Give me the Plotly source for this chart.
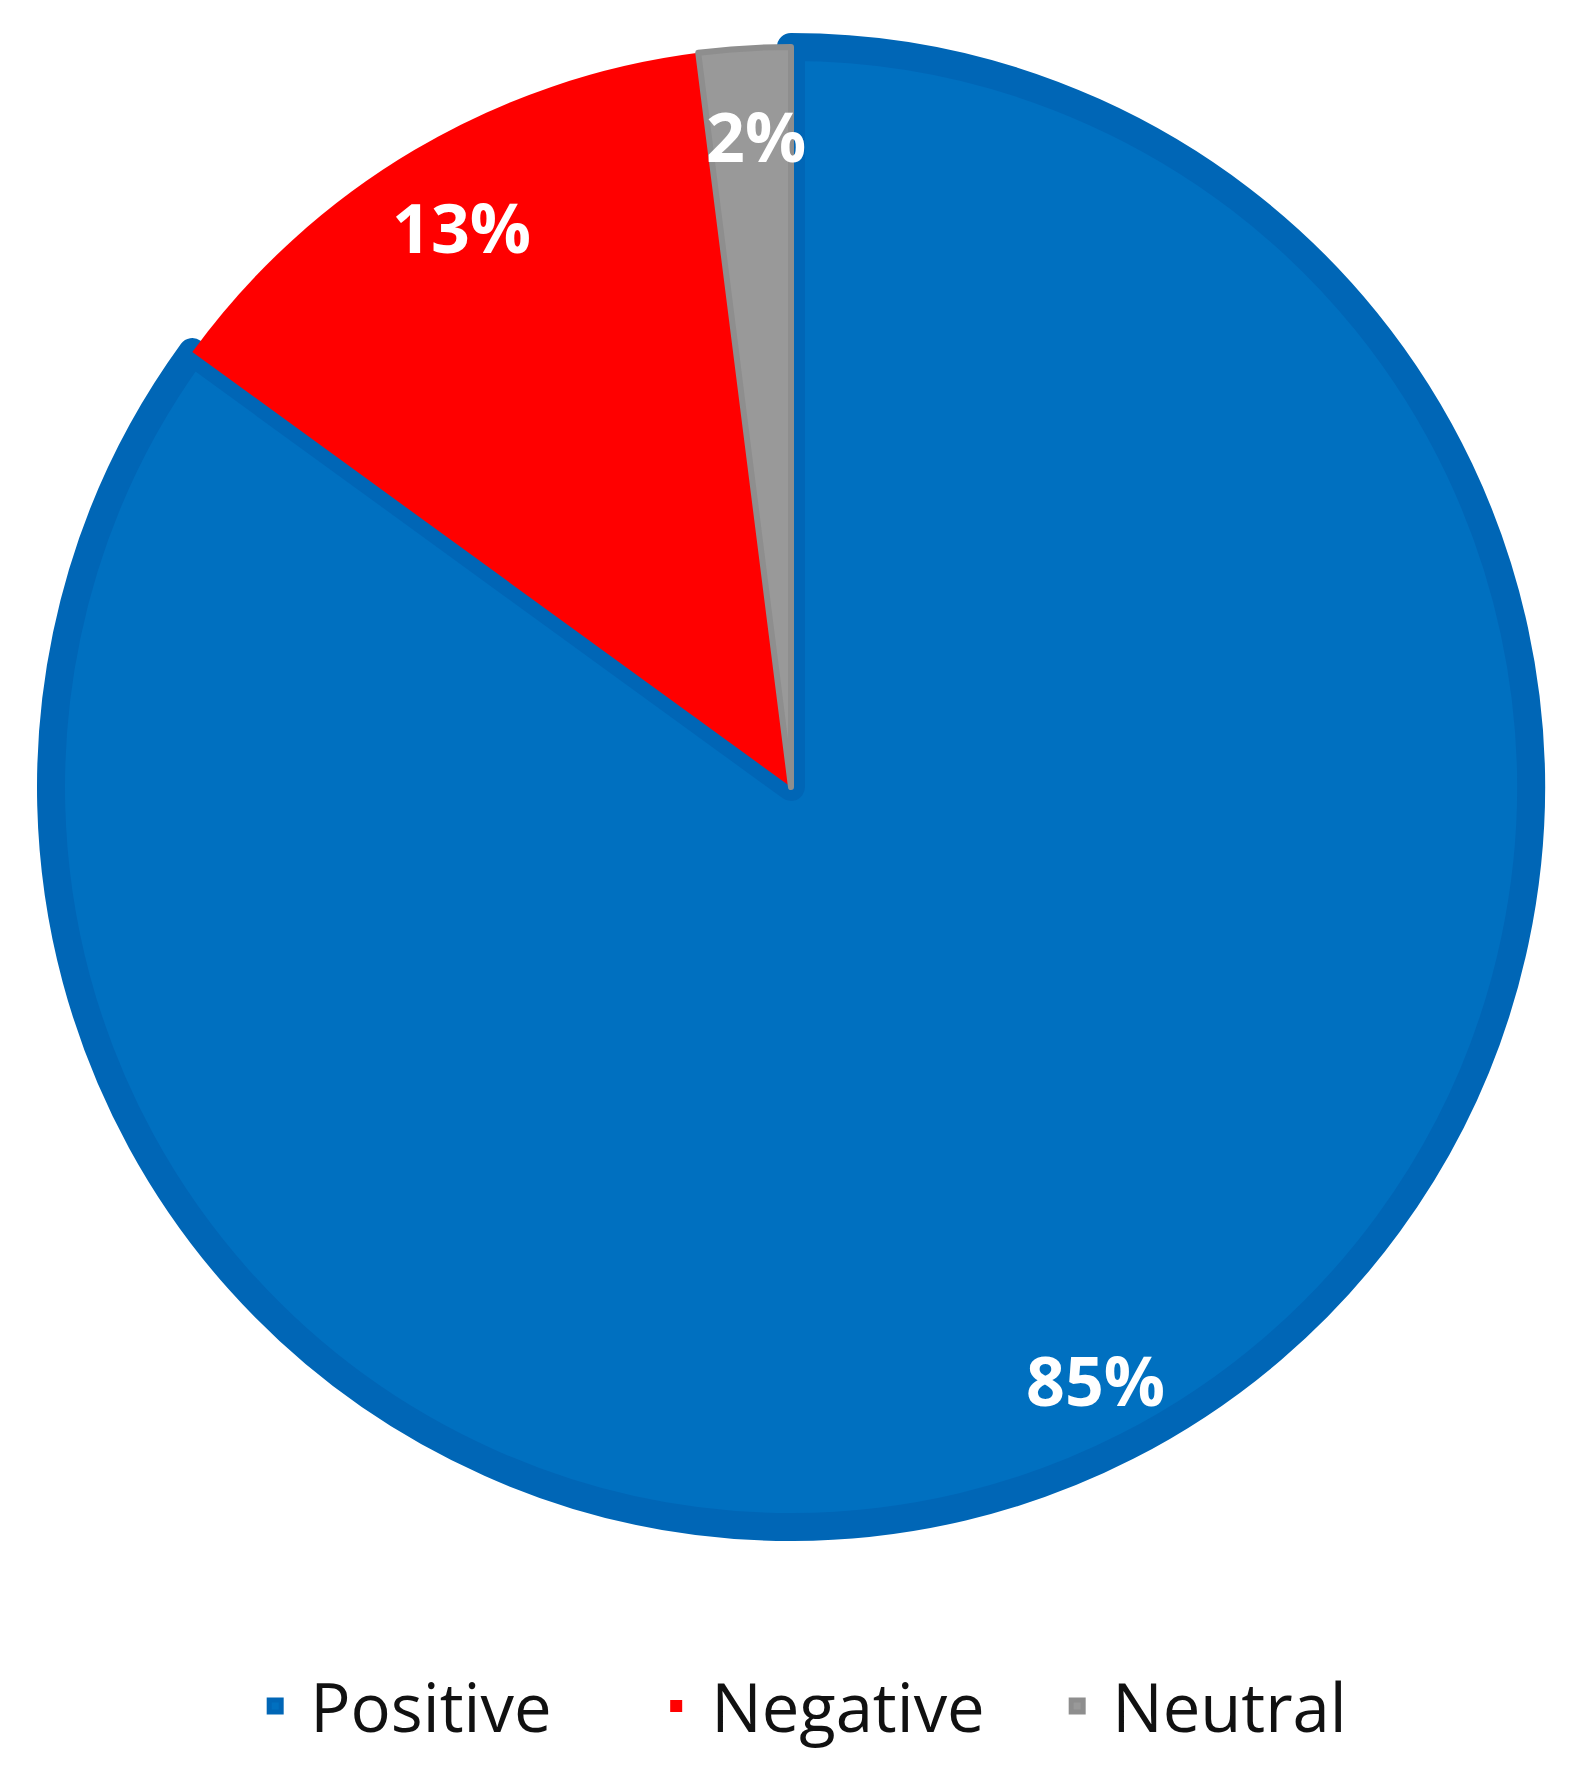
import math
import plotly.graph_objects as go

labels = ["Positive", "Negative", "Neutral"]
values = [85, 13, 2]
colors = ["#0070C0", "#FF0000", "#999999"]
border_colors = ["#0066B6", "#FF0000", "#8E8E8E"]
border_widths = [28, 0, 6]

W, H = 1591, 1771
cx, cy, R = 783, 779, 740  # pie centre and fill radius in px

fig = go.Figure(go.Pie(
    labels=labels,
    values=values,
    sort=False,
    direction="clockwise",
    rotation=0,
    marker=dict(colors=colors, line=dict(color=border_colors, width=border_widths)),
    textinfo="none",
    hoverinfo="label+percent",
    domain=dict(x=[(cx - R) / W, (cx + R) / W], y=[(H - cy - R) / H, (H - cy + R) / H]),
))

# percentage labels placed near the rim at each slice's mid-angle
total = sum(values)
cum = 0
for v in values:
    mid = (cum + v / 2) / total * 2 * math.pi
    cum += v
    r = 0.89 * R
    fig.add_annotation(
        x=(cx + 6 + r * math.sin(mid)) / W,
        y=(H - cy - 6 + r * math.cos(mid)) / H,
        xref="paper", yref="paper",
        xanchor="center", yanchor="middle",
        text=f"{round(v / total * 100)}%",
        showarrow=False,
        font=dict(family="Open Sans", size=68, color="white", weight="bold"),
    )

fig.update_layout(
    width=W, height=H,
    margin=dict(l=0, r=0, t=0, b=0),
    paper_bgcolor="white",
    showlegend=True,
    legend=dict(
        orientation="h",
        x=0.524, xanchor="center",
        y=0.041, yanchor="middle",
        font=dict(family="Open Sans", size=67, color="#111111"),
        itemwidth=60,
        entrywidth=326,
    ),
)

fig.write_html("out.html")
